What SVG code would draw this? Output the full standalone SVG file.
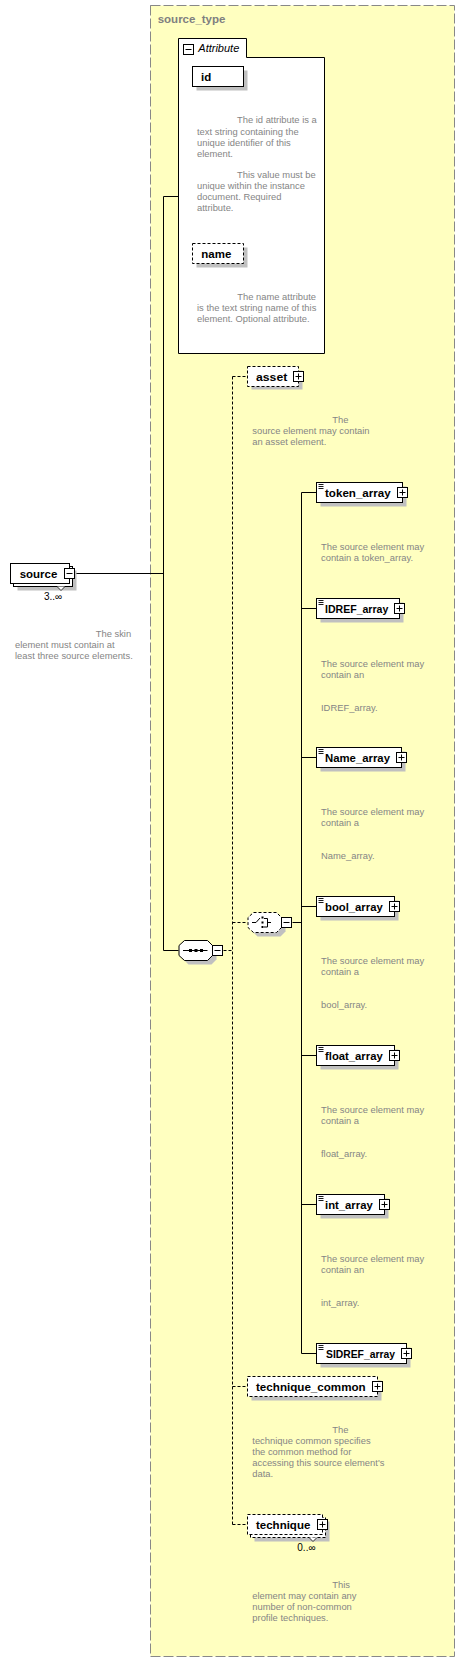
<svg xmlns="http://www.w3.org/2000/svg" width="465" height="1663" viewBox="0 0 465 1663">
<style>
.lbl{font-family:"Liberation Sans",Arial,sans-serif;font-weight:bold;font-size:11.5px;fill:#000}
.desc{font-family:"Liberation Sans",Arial,sans-serif;font-size:9.4px;fill:#858585}
.occ{font-family:"Liberation Sans",Arial,sans-serif;font-size:10px;fill:#000}
.box{fill:#fff;stroke:#000;stroke-width:1}
.dbox{fill:#fff;stroke:#000;stroke-width:1;stroke-dasharray:3,2}
.shadow{fill:#c0c0c0}
.ln{fill:none;stroke:#000;stroke-width:1}
.dln{fill:none;stroke:#000;stroke-width:1;stroke-dasharray:3,2}
</style>
<defs>
<g id="plus"><rect x="1" y="1" width="10" height="10" fill="#000"/><rect x="0.5" y="0.5" width="10" height="10" fill="#fff" stroke="#000"/><path d="M2.5 5.5H8.5M5.5 2.5V8.5" stroke="#000" fill="none"/></g>
<g id="minus"><rect x="1" y="1" width="10" height="10" fill="#000"/><rect x="0.5" y="0.5" width="10" height="10" fill="#fff" stroke="#000"/><path d="M2.5 5.5H8.5" stroke="#000" fill="none"/></g>
<g id="lines"><path d="M2 2H7M2 4H7M2 6H7" stroke="#000" fill="none" stroke-width="0.9"/></g>
</defs>

<g id="source_type">
<rect x="150.5" y="5.5" width="304" height="1651" fill="#ffffc0" stroke="#888" stroke-dasharray="10,3"/>
<text x="157.7" y="22.5" style="font-family:'Liberation Sans',Arial,sans-serif;font-weight:bold;font-size:11.5px;fill:#808080">source_type</text>
</g>

<g id="connectors">
<path class="ln" d="M75.5 573.5H163.5M163.5 196.5V950.5M163.5 196.5H178.5M163.5 950.5H178.5"/>
<path class="dln" d="M223.5 950.5H232.5M232.5 376.5V1524.5M232.5 376.5H247.5M232.5 922.5H247.5M232.5 1386.5H247.5M232.5 1524.5H247.5"/>
<path class="ln" d="M292.5 922.5H301.5M301.5 492.5V1353.5M301.5 492.5H316.5M301.5 608.5H316.5M301.5 757.5H316.5M301.5 906.5H316.5M301.5 1055.5H316.5M301.5 1204.5H316.5M301.5 1353.5H316.5"/>
</g>

<g id="attributes">
<path d="M178.5 38.5H246.5V57.5H324.5V353.5H178.5Z" fill="#fff" stroke="#000"/>
<use href="#minus" x="183" y="44"/>
<text x="198.3" y="51.5" style="font-family:'Liberation Sans',Arial,sans-serif;font-style:italic;font-size:11px;fill:#000">Attribute</text>
</g>

<g id="attr_id">
<rect class="shadow" x="196.5" y="70.5" width="51" height="20"/>
<rect class="box" x="192.5" y="66.5" width="51" height="20"/>
<text class="lbl" x="201" y="80.5">id</text>
<text class="desc"><tspan x="237" y="123.3">The id attribute is a</tspan><tspan x="197" y="134.5">text string containing the</tspan><tspan x="197" y="145.7">unique identifier of this</tspan><tspan x="197" y="156.7">element.</tspan><tspan x="237" y="178.3">This value must be</tspan><tspan x="197" y="189.4">unique within the instance</tspan><tspan x="197" y="200.4">document. Required</tspan><tspan x="197" y="211.4">attribute.</tspan></text>
</g>

<g id="attr_name">
<rect class="shadow" x="196.5" y="247.5" width="51" height="20"/>
<rect class="dbox" x="192.5" y="243.5" width="51" height="20"/>
<text class="lbl" x="201.3" y="257.5" textLength="30" lengthAdjust="spacingAndGlyphs">name</text>
<text class="desc"><tspan x="237.3" y="300.3">The name attribute</tspan><tspan x="197" y="311.3">is the text string name of this</tspan><tspan x="197" y="322.3">element. Optional attribute.</tspan></text>
</g>

<g id="source">
<rect class="shadow" x="17.5" y="570.5" width="59" height="20"/>
<rect class="box" x="13.5" y="566.5" width="59" height="20"/>
<rect class="box" x="10.5" y="563.5" width="59" height="20"/>
<path d="M57 586.5L61 590.5L65 586.5" fill="#fff" stroke="#000" stroke-width="0.8"/>
<text class="lbl" x="19.7" y="577.5" textLength="37.6" lengthAdjust="spacingAndGlyphs">source</text>
<use href="#minus" x="64" y="568"/>
<text class="occ" x="44" y="600">3..∞</text>
<text class="desc"><tspan x="95.7" y="637.3">The skin</tspan><tspan x="15" y="648.3">element must contain at</tspan><tspan x="15" y="659.3">least three source elements.</tspan></text>
</g>

<g id="sequence">
<path class="shadow" d="M188.5 944.5H211.5L216.5 949.5V959.5L211.5 964.5H188.5L183.5 959.5V949.5Z"/>
<path d="M184.5 940.5H207.5L212.5 945.5V955.5L207.5 960.5H184.5L179 955.5V945.5Z" fill="#fff" stroke="#000"/>
<path d="M183 950.5H207.5" stroke="#000"/>
<rect x="189" y="949" width="3" height="3"/><rect x="194.5" y="949" width="3" height="3"/><rect x="200" y="949" width="3" height="3"/>
<use href="#minus" x="212" y="945"/>
</g>

<g id="asset">
<rect class="shadow" x="251.5" y="370.5" width="51" height="19"/>
<rect class="dbox" x="247.5" y="366.5" width="51" height="20"/>
<text class="lbl" x="256" y="380.5" textLength="31.3" lengthAdjust="spacingAndGlyphs">asset</text>
<use href="#plus" x="293" y="371"/>
<text class="desc"><tspan x="332.3" y="423.3">The</tspan><tspan x="252.3" y="434.3">source element may contain</tspan><tspan x="252.3" y="445.3">an asset element.</tspan></text>
</g>

<g id="choice">
<path class="shadow" d="M257.5 916.5H280.5L285.5 921.5V931.5L280.5 936.5H257.5L252.5 931.5V921.5Z"/>
<path d="M253.5 912.5H276.5L281.5 917.5V927.5L276.5 932.5H253.5L248 927.5V917.5Z" fill="#fff" stroke="#000" stroke-dasharray="3,2"/>
<path d="M252 922.5H256L260 918" stroke="#000" fill="none"/>
<rect x="261.5" y="916.5" width="2" height="2"/><rect x="261.5" y="921.5" width="2" height="2"/><rect x="261.5" y="926" width="2" height="2"/>
<path d="M264 918.5H267.5V927H264M267.5 922.5H271" stroke="#000" fill="none"/>
<use href="#minus" x="281" y="917"/>
</g>

<g id="token_array">
<rect class="shadow" x="320.5" y="486.5" width="86" height="20"/>
<rect class="box" x="316.5" y="482.5" width="86" height="20"/>
<use href="#lines" x="316.5" y="482.5"/>
<text class="lbl" x="325" y="496.5" textLength="65.7" lengthAdjust="spacingAndGlyphs">token_array</text>
<use href="#plus" x="397" y="487"/>
<text class="desc"><tspan x="321" y="550">The source element may</tspan><tspan x="321" y="561">contain a token_array.</tspan></text>
</g>

<g id="IDREF_array">
<rect class="shadow" x="320.5" y="602.5" width="83" height="20"/>
<rect class="box" x="316.5" y="598.5" width="83" height="20"/>
<use href="#lines" x="316.5" y="598.5"/>
<text class="lbl" x="325" y="612.5" textLength="63.3" lengthAdjust="spacingAndGlyphs">IDREF_array</text>
<use href="#plus" x="394" y="603"/>
<text class="desc"><tspan x="321" y="666.7">The source element may</tspan><tspan x="321" y="677.7">contain an</tspan><tspan x="321" y="710.5">IDREF_array.</tspan></text>
</g>

<g id="Name_array">
<rect class="shadow" x="320.5" y="751.5" width="85" height="20"/>
<rect class="box" x="316.5" y="747.5" width="85" height="20"/>
<use href="#lines" x="316.5" y="747.5"/>
<text class="lbl" x="325" y="761.5" textLength="65" lengthAdjust="spacingAndGlyphs">Name_array</text>
<use href="#plus" x="396" y="752"/>
<text class="desc"><tspan x="321" y="815.3">The source element may</tspan><tspan x="321" y="826.3">contain a</tspan><tspan x="321" y="859.3">Name_array.</tspan></text>
</g>

<g id="bool_array">
<rect class="shadow" x="320.5" y="900.5" width="78" height="20"/>
<rect class="box" x="316.5" y="896.5" width="78" height="20"/>
<use href="#lines" x="316.5" y="896.5"/>
<text class="lbl" x="325" y="910.5" textLength="57.7" lengthAdjust="spacingAndGlyphs">bool_array</text>
<use href="#plus" x="389" y="901"/>
<text class="desc"><tspan x="321" y="964.3">The source element may</tspan><tspan x="321" y="975.3">contain a</tspan><tspan x="321" y="1008.3">bool_array.</tspan></text>
</g>

<g id="float_array">
<rect class="shadow" x="320.5" y="1049.5" width="78" height="20"/>
<rect class="box" x="316.5" y="1045.5" width="78" height="20"/>
<use href="#lines" x="316.5" y="1045.5"/>
<text class="lbl" x="325" y="1059.5" textLength="57.7" lengthAdjust="spacingAndGlyphs">float_array</text>
<use href="#plus" x="389" y="1050"/>
<text class="desc"><tspan x="321" y="1113.3">The source element may</tspan><tspan x="321" y="1124.3">contain a</tspan><tspan x="321" y="1157.3">float_array.</tspan></text>
</g>

<g id="int_array">
<rect class="shadow" x="320.5" y="1198.5" width="68" height="20"/>
<rect class="box" x="316.5" y="1194.5" width="68" height="20"/>
<use href="#lines" x="316.5" y="1194.5"/>
<text class="lbl" x="325" y="1208.5" textLength="47.7" lengthAdjust="spacingAndGlyphs">int_array</text>
<use href="#plus" x="379" y="1199"/>
<text class="desc"><tspan x="321" y="1262.3">The source element may</tspan><tspan x="321" y="1273.3">contain an</tspan><tspan x="321" y="1306.3">int_array.</tspan></text>
</g>

<g id="SIDREF_array">
<rect class="shadow" x="320.5" y="1347.5" width="90" height="20"/>
<rect class="box" x="316.5" y="1343.5" width="90" height="20"/>
<use href="#lines" x="316.5" y="1343.5"/>
<text class="lbl" x="326" y="1357.5" textLength="69" lengthAdjust="spacingAndGlyphs">SIDREF_array</text>
<use href="#plus" x="401" y="1348"/>
</g>

<g id="technique_common">
<rect class="shadow" x="251.5" y="1380.5" width="130" height="20"/>
<rect class="dbox" x="247.5" y="1376.5" width="130" height="20"/>
<text class="lbl" x="256" y="1390.5" textLength="109.7" lengthAdjust="spacingAndGlyphs">technique_common</text>
<use href="#plus" x="372" y="1381"/>
<text class="desc"><tspan x="332.3" y="1433.3">The</tspan><tspan x="252.3" y="1444.3">technique common specifies</tspan><tspan x="252.3" y="1455.3">the common method for</tspan><tspan x="252.3" y="1466.3">accessing this source element's</tspan><tspan x="252.3" y="1477.3">data.</tspan></text>
</g>

<g id="technique">
<rect class="shadow" x="254.5" y="1521.5" width="75" height="20"/>
<rect class="dbox" x="250.5" y="1517.5" width="75" height="20"/>
<rect class="dbox" x="247.5" y="1514.5" width="75" height="20"/>
<path d="M309 1537.5L313 1541.5L317 1537.5" fill="#fff" stroke="#000" stroke-width="0.8"/>
<text class="lbl" x="256" y="1528.5" textLength="54.3" lengthAdjust="spacingAndGlyphs">technique</text>
<use href="#plus" x="317" y="1519"/>
<text class="occ" x="297.3" y="1551">0..∞</text>
<text class="desc"><tspan x="332.3" y="1588.3">This</tspan><tspan x="252.3" y="1599.3">element may contain any</tspan><tspan x="252.3" y="1610.3">number of non-common</tspan><tspan x="252.3" y="1621.3">profile techniques.</tspan></text>
</g>
</svg>
